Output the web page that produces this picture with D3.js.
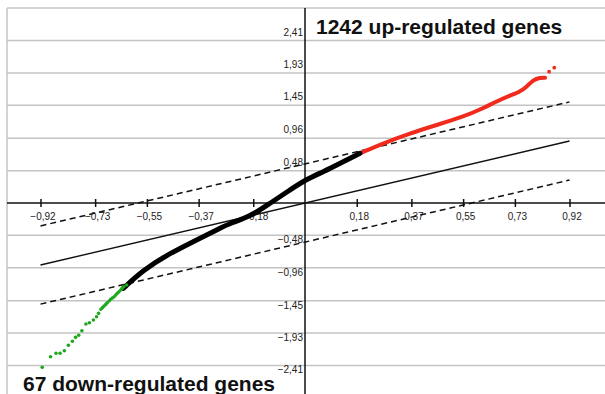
<!DOCTYPE html>
<html>
<head>
<meta charset="utf-8">
<script src="https://cdn.jsdelivr.net/npm/d3@7"></script>
<style>
  html, body { margin: 0; padding: 0; background: #fff; }
  svg { display: block; }
</style>
</head>
<body>
<svg id="qq-chart" width="605" height="394"></svg>
<script>
// tick values
const xTicks = [-0.92, -0.73, -0.55, -0.37, -0.18, 0.18, 0.37, 0.55, 0.73, 0.92];
const yTicks = [2.41, 1.93, 1.45, 0.96, 0.48, -0.48, -0.96, -1.45, -1.93, -2.41];

// reference lines: y = x and y = x +/- offset
const lineRange = [-0.92, 0.92];
const dashOffset = 0.58;

// down-regulated genes (green dots)
const downGenes = [
  [-0.914, -2.438], [-0.885, -2.281], [-0.866, -2.230], [-0.852, -2.230],
  [-0.837, -2.191], [-0.823, -2.111], [-0.809, -2.052], [-0.798, -1.993],
  [-0.787, -1.963], [-0.776, -1.895], [-0.762, -1.795], [-0.750, -1.776],
  [-0.736, -1.736], [-0.725, -1.687], [-0.718, -1.637], [-0.710, -1.577],
  [-0.704, -1.552], [-0.699, -1.528], [-0.693, -1.504], [-0.688, -1.479],
  [-0.681, -1.454], [-0.676, -1.429], [-0.670, -1.409], [-0.664, -1.390],
  [-0.658, -1.365], [-0.653, -1.340], [-0.647, -1.316], [-0.641, -1.291],
  [-0.636, -1.267], [-0.630, -1.242], [-0.620, -1.217]
];

// unchanged genes (black, dense)
const midGenes = [
  [-0.632, -1.266], [-0.562, -0.994], [-0.481, -0.772], [-0.389, -0.574],
  [-0.296, -0.375], [-0.261, -0.301], [-0.191, -0.203], [-0.122, -0.004],
  [-0.052, 0.193], [0.000, 0.341], [0.064, 0.464], [0.133, 0.613],
  [0.191, 0.737]
];

// up-regulated genes (red, dense then two outliers)
const upGenes = [
  [0.191, 0.737], [0.272, 0.886], [0.365, 1.034], [0.458, 1.157],
  [0.551, 1.280], [0.620, 1.405], [0.667, 1.510], [0.713, 1.595],
  [0.748, 1.651], [0.771, 1.726], [0.794, 1.825], [0.817, 1.859],
  [0.835, 1.859]
];
const upOutliers = [[0.849, 1.948], [0.867, 2.007]];

const svg = d3.select('svg#qq-chart');
const frame = { left: 7, top: 8, right: 605, bottom: 398 };

const x = d3.scaleLinear().domain([-1.0365, 1.0365]).range([frame.left, 603]);
const y = d3.scaleLinear().domain([-2.893, 2.893]).range([frame.bottom, frame.top]);
const fmt = v => d3.format('.2f')(v).replace('.', ',');

// grid
svg.append('g')
  .selectAll('line')
  .data(yTicks.concat([y.domain()[1]]))
  .enter()
  .append('line')
  .attr('x1', frame.left).attr('x2', frame.right)
  .attr('y1', d => y(d)).attr('y2', d => y(d))
  .attr('stroke', '#c4c4c4')
  .attr('stroke-width', 1.5);

svg.append('line')
  .attr('x1', frame.left).attr('x2', frame.left)
  .attr('y1', frame.top).attr('y2', frame.bottom)
  .attr('stroke', '#c4c4c4')
  .attr('stroke-width', 1.5);

// x axis with ticks through zero
const xAxis = svg.append('g')
  .attr('transform', `translate(0,${y(0)})`)
  .call(d3.axisBottom(x).tickValues(xTicks).tickSize(4).tickFormat(fmt));
xAxis.select('.domain').remove();
xAxis.selectAll('.tick line')
  .attr('y1', -4)
  .attr('stroke', '#111')
  .attr('stroke-width', 1.5);
xAxis.selectAll('.tick text')
  .attr('y', 10)
  .attr('dx', 2)
  .attr('fill', '#222')
  .style('font', '10px "Liberation Sans", Arial, sans-serif');

svg.append('line')
  .attr('x1', frame.left).attr('x2', frame.right)
  .attr('y1', y(0)).attr('y2', y(0))
  .attr('stroke', '#111')
  .attr('stroke-width', 1.5);

// y labels next to the vertical axis
svg.append('g')
  .selectAll('text')
  .data(yTicks)
  .enter()
  .append('text')
  .attr('x', x(0) - 2)
  .attr('y', d => d > 0 ? y(d) - 5 : y(d) + 8)
  .attr('text-anchor', 'end')
  .attr('fill', '#222')
  .style('font', '10px "Liberation Sans", Arial, sans-serif')
  .text(fmt);

svg.append('line')
  .attr('x1', x(0)).attr('x2', x(0))
  .attr('y1', frame.top).attr('y2', frame.bottom)
  .attr('stroke', '#111')
  .attr('stroke-width', 1.5);

// reference lines
const refs = [
  { off: 0, dash: null, w: 1.4 },
  { off: dashOffset, dash: '6,4', w: 1.5 },
  { off: -dashOffset, dash: '6,4', w: 1.5 }
];
svg.append('g')
  .selectAll('line')
  .data(refs)
  .enter()
  .append('line')
  .attr('x1', x(lineRange[0])).attr('y1', d => y(lineRange[0] + d.off))
  .attr('x2', x(lineRange[1])).attr('y2', d => y(lineRange[1] + d.off))
  .attr('stroke', '#111')
  .attr('stroke-width', d => d.w)
  .attr('stroke-dasharray', d => d.dash);

// genes
const line = d3.line()
  .x(d => x(d[0]))
  .y(d => y(d[1]))
  .curve(d3.curveBasis);

svg.append('path')
  .datum(upGenes)
  .attr('d', line)
  .attr('fill', 'none')
  .attr('stroke', '#f02a1c')
  .attr('stroke-width', 4)
  .attr('stroke-linecap', 'round');

svg.append('path')
  .datum(midGenes)
  .attr('d', line)
  .attr('fill', 'none')
  .attr('stroke', '#000')
  .attr('stroke-width', 5)
  .attr('stroke-linecap', 'round');

svg.append('g')
  .selectAll('circle')
  .data(upOutliers)
  .enter()
  .append('circle')
  .attr('cx', d => x(d[0]))
  .attr('cy', d => y(d[1]))
  .attr('r', 1.9)
  .attr('fill', '#f02a1c');

svg.append('g')
  .selectAll('circle')
  .data(downGenes)
  .enter()
  .append('circle')
  .attr('cx', d => x(d[0]))
  .attr('cy', d => y(d[1]))
  .attr('r', 1.8)
  .attr('fill', '#1fa81f');

// annotations
svg.append('text')
  .attr('x', 316).attr('y', 34)
  .style('font', 'bold 21px "Liberation Sans", Arial, sans-serif')
  .attr('fill', '#111')
  .text('1242 up-regulated genes');

svg.append('text')
  .attr('x', 23).attr('y', 391)
  .style('font', 'bold 21px "Liberation Sans", Arial, sans-serif')
  .attr('fill', '#111')
  .text('67 down-regulated genes');
</script>
</body>
</html>
